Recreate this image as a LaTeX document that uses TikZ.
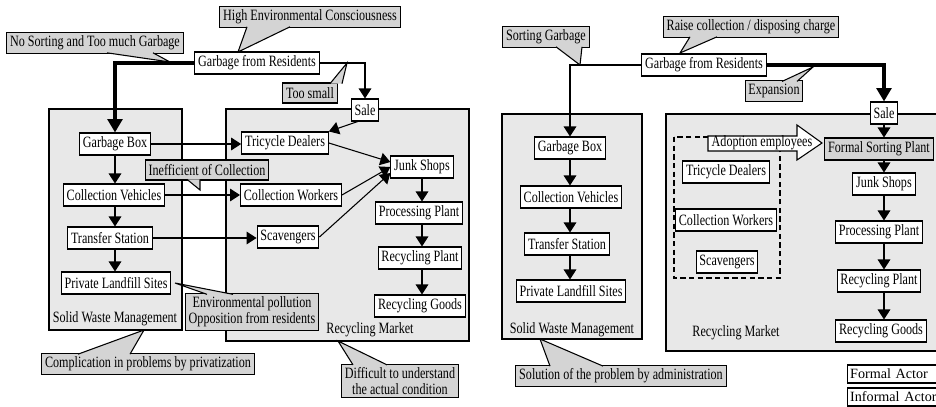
\documentclass[tikz,border=0pt]{standalone}
\usepackage{fontspec}
\setmainfont[FakeStretch=0.77]{Liberation Serif}
\newfontfamily\legendfont{Liberation Serif}
\usetikzlibrary{arrows.meta,calc}
\definecolor{panelgray}{gray}{0.91}
\definecolor{notegray}{gray}{0.83}
\tikzset{
 actor/.style={draw,fill=white,line width=0.8pt,inner sep=2.5pt,minimum height=16.5pt,font=\fontsize{11.8}{12}\selectfont},
 formal/.style={actor,fill=notegray},
 note/.style={draw,fill=notegray,line width=0.8pt,inner sep=2.5pt,minimum height=15pt,align=center,font=\fontsize{11.8}{11.8}\selectfont},
 panel/.style={draw,fill=panelgray,line width=0.8pt},
 paneltext/.style={font=\fontsize{11.8}{12}\selectfont},
 flow/.style={line width=0.8pt,-{Triangle[length=7.5pt,width=9.5pt]}},
 bigflow/.style={line width=3pt,-{Triangle[length=10pt,width=11pt]}},
 legendbox/.style={draw,fill=white,line width=0.8pt,anchor=west,inner sep=2pt,minimum height=13.5pt,text width=76pt,align=left,font=\legendfont\fontsize{10.6}{12}\selectfont}
}
\newcommand{\tail}[3]{\fill[notegray] #1 -- #3 -- #2 -- cycle; \draw[line width=0.8pt] #1 -- #3 -- #2;}
\begin{document}
\begin{tikzpicture}[x=0.75pt,y=-0.75pt]
\useasboundingbox (0,0) rectangle (936,407);
\clip (0,0) rectangle (936,407);
% left: present situation
\draw[panel] (49,109) rectangle (182,330);
\draw[panel] (226,109) rectangle (469,341);
\node[paneltext] (swmL) at (115,319) {Solid Waste Management};
\node[paneltext] (rmL) at (370,330) {Recycling Market};
\node[actor] (gfrL) at (257,63) {Garbage from Residents};
\node[actor] (saleL) at (365,110) {Sale};
\node[actor] (gboxL) at (115,144) {Garbage Box};
\node[actor] (cvehL) at (114,195) {Collection Vehicles};
\node[actor] (tstatL) at (110,238) {Transfer Station};
\node[actor] (landL) at (116,283) {Private Landfill Sites};
\node[actor] (tdealL) at (285,143) {Tricycle Dealers};
\node[actor] (cworkL) at (291,195) {Collection Workers};
\node[actor] (scavL) at (288,237) {Scavengers};
\node[actor] (junkL) at (422,167) {Junk Shops};
\node[actor] (procL) at (419,213) {Processing Plant};
\node[actor] (recpL) at (420,258) {Recycling Plant};
\node[actor] (recgL) at (420,306) {Recycling Goods};
\draw[bigflow] (gfrL.west) -| (gboxL.north);
\draw[flow] (gfrL.east) -| (saleL.north);
\draw[flow] (gboxL.south) -- (gboxL.south |- cvehL.north);
\draw[flow] (gboxL.south |- cvehL.south) -- (gboxL.south |- tstatL.north);
\draw[flow] (gboxL.south |- tstatL.south) -- (gboxL.south |- landL.north);
\draw[flow] (gboxL.east) -- (gboxL.east -| tdealL.west);
\draw[flow] (cvehL.east) -- (cvehL.east -| cworkL.west);
\draw[flow] (tstatL.east) -- (tstatL.east -| scavL.west);
\draw[flow] ($(saleL.south west)+(7,0)$) -- (tdealL.north east);
\draw[flow] (tdealL.east) -- ($(junkL.west)+(0,-5)$);
\draw[flow] (cworkL.east) -- (junkL.west);
\draw[flow] (scavL.east) -- ($(junkL.west)+(0,6)$);
\draw[flow] (junkL.south) -- (junkL.south |- procL.north);
\draw[flow] (junkL.south |- procL.south) -- (junkL.south |- recpL.north);
\draw[flow] (junkL.south |- recpL.south) -- (junkL.south |- recgL.north);
\node[note] (nosort) at (95,43) {No Sorting and Too much Garbage};
\tail{($(nosort.south)+(12,-1.2)$)}{($(nosort.south)+(58,-1.2)$)}{(170,62)}
\node[note] (highenv) at (310,17) {High Environmental Consciousness};
\tail{($(highenv.south)+(-63,-1.2)$)}{($(highenv.south)+(-20,-1.2)$)}{(238,52)}
\node[note] (toosmall) at (310,93) {Too small};
\tail{($(toosmall.north)+(20,1.2)$)}{($(toosmall.north)+(32,1.2)$)}{(347,63)}
\node[note] (inefnote) at (207,170) {Inefficient of Collection};
\tail{($(inefnote.south)+(-20,-1.2)$)}{($(inefnote.south)+(-7,-1.2)$)}{(200,190)}
\node[note] (pollnote) at (252,312) {Environmental pollution\\Opposition from residents};
\tail{($(pollnote.north)+(-45,1.2)$)}{($(pollnote.north)+(-19,1.2)$)}{(175,283)}
\node[note] (compnote) at (148,364) {Complication in problems by privatization};
\tail{($(compnote.north)+(-70,1.2)$)}{($(compnote.north)+(-18,1.2)$)}{(144,330)}
\node[note] (diffnote) at (400,381) {Difficult to understand\\the actual condition};
\tail{($(diffnote.north)+(-47,1.2)$)}{($(diffnote.north)+(-13,1.2)$)}{(338,341)}
% right: proposal
\draw[panel] (502,114) rectangle (642,339);
\draw[panel] (666,114) rectangle (945,351);
\node[paneltext] (swmR) at (572,330) {Solid Waste Management};
\node[paneltext] (rmR) at (736,333) {Recycling Market};
\draw[dashed,line width=1.2pt,dash pattern=on 4pt off 2.5pt] (674,137) rectangle (780,278);
\node[actor] (gfrR) at (704,65) {Garbage from Residents};
\node[actor] (saleR) at (884,113) {Sale};
\node[actor] (gboxR) at (570,148) {Garbage Box};
\node[actor] (cvehR) at (571,197) {Collection Vehicles};
\node[actor] (tstatR) at (567,244) {Transfer Station};
\node[actor] (landR) at (571,291) {Private Landfill Sites};
\node[actor] (tdealR) at (726,172) {Tricycle Dealers};
\node[actor] (cworkR) at (726,220) {Collection Workers};
\node[actor] (scavR) at (727,262) {Scavengers};
\node[formal] (formR) at (879,149) {Formal Sorting Plant};
\node[actor] (junkR) at (884,184) {Junk Shops};
\node[actor] (procR) at (879,232) {Processing Plant};
\node[actor] (recpR) at (879,281) {Recycling Plant};
\node[actor] (recgR) at (881,331) {Recycling Goods};
\draw[flow] (gfrR.west) -| (gboxR.north);
\draw[bigflow] (gfrR.east) -| (saleR.north);
\draw[flow] (gboxR.south) -- (gboxR.south |- cvehR.north);
\draw[flow] (gboxR.south |- cvehR.south) -- (gboxR.south |- tstatR.north);
\draw[flow] (gboxR.south |- tstatR.south) -- (gboxR.south |- landR.north);
\draw[flow] (saleR.south) -- (saleR.south |- formR.north);
\draw[flow] (saleR.south |- formR.south) -- (saleR.south |- junkR.north);
\draw[flow] (saleR.south |- junkR.south) -- (saleR.south |- procR.north);
\draw[flow] (saleR.south |- procR.south) -- (saleR.south |- recpR.north);
\draw[flow] (saleR.south |- recpR.south) -- (saleR.south |- recgR.north);
\draw[fill=white,line width=0.8pt] (708,136) -- (797,136) -- (797,125) -- (822,143) -- (797,160) -- (797,151) -- (708,151) -- cycle;
\node[paneltext,inner sep=0pt] (adopt) at (762,143) {Adoption employees};
\node[note] (sortnote) at (546,37) {Sorting Garbage};
\tail{($(sortnote.south)+(10,-1.2)$)}{($(sortnote.south)+(36,-1.2)$)}{(580,65)}
\node[note] (raisenote) at (751,27) {Raise collection / disposing charge};
\tail{($(raisenote.south)+(-61,-1.2)$)}{($(raisenote.south)+(-34,-1.2)$)}{(680,53)}
\node[note] (expnote) at (774,91) {Expansion};
\tail{($(expnote.north)+(8,1.2)$)}{($(expnote.north)+(23,1.2)$)}{(813,67)}
\node[note] (solnote) at (621,376) {Solution of the problem by administration};
\tail{($(solnote.north)+(-71,1.2)$)}{($(solnote.north)+(-18,1.2)$)}{(540,339)}
\node[legendbox] (formalkey) at (847,374) {Formal Actor};
\node[legendbox] (informalkey) at (847,397) {Informal Actor};
\end{tikzpicture}
\end{document}
